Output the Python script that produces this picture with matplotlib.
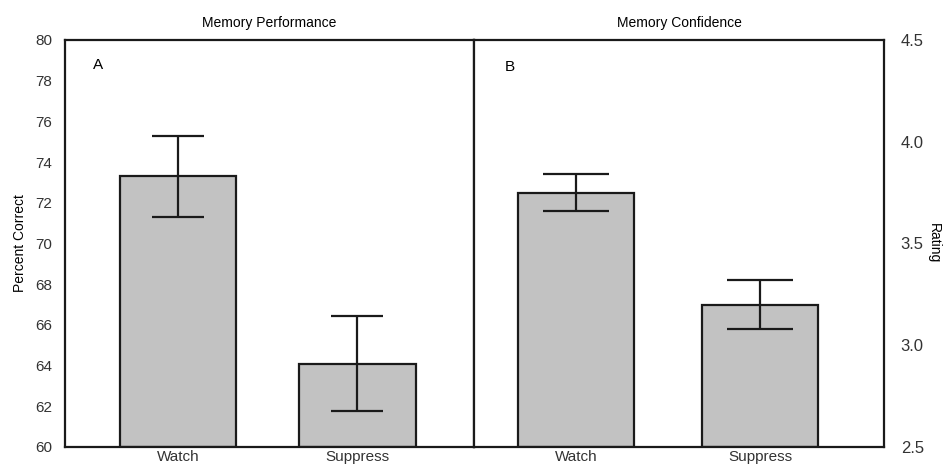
import numpy as np
import matplotlib
matplotlib.use("Agg")
import matplotlib.pyplot as plt

plt.rcParams['font.family'] = ['Liberation Sans Narrow', 'Liberation Sans', 'DejaVu Sans']

conditions = ['Watch', 'Suppress']
perf_mean = [73.3, 64.1]
perf_err = [2.0, 2.35]
conf_mean = [3.75, 3.20]
conf_err = [0.09, 0.12]

fig = plt.figure(figsize=(9.5, 4.7), dpi=100)
ax1 = fig.add_axes([0.0684, 0.049, 0.4305, 0.866])
ax2 = fig.add_axes([0.499, 0.049, 0.4316, 0.866])

x = np.arange(len(conditions))
bar_kw = dict(color='#c2c2c2', edgecolor='#1a1a1a', linewidth=1.6, zorder=2)
err_kw = dict(fmt='none', ecolor='#1a1a1a', elinewidth=1.6, capthick=1.6, zorder=3)

# panel A
ax1.bar(x, np.array(perf_mean) - 60, bottom=60, width=0.65, **bar_kw)
ax1.errorbar(x, perf_mean, yerr=perf_err, capsize=19, **err_kw)
ax1.set_xlim(-0.63, 1.65)
ax1.set_ylim(60, 80)
ax1.set_yticks(np.arange(60, 81, 2))
ax1.set_ylabel('Percent Correct', fontsize=10, labelpad=6)
ax1.set_title('Memory Performance', fontsize=10, pad=9)
ax1.text(0.068, 0.955, 'A', transform=ax1.transAxes, fontsize=11, va='top')

# panel B
ax2.bar(x, np.array(conf_mean) - 2.5, bottom=2.5, width=0.63, **bar_kw)
ax2.errorbar(x, conf_mean, yerr=conf_err, capsize=24, **err_kw)
ax2.set_xlim(-0.555, 1.672)
ax2.set_ylim(2.5, 4.5)
ax2.set_yticks([2.5, 3.0, 3.5, 4.0, 4.5])
ax2.set_yticklabels(['2.5', '3.0', '3.5', '4.0', '4.5'])
ax2.yaxis.tick_right()
ax2.yaxis.set_label_position('right')
ax2.set_ylabel('Rating', fontsize=10, rotation=270, labelpad=12)
ax2.set_title('Memory Confidence', fontsize=10, pad=9)
ax2.text(0.075, 0.95, 'B', transform=ax2.transAxes, fontsize=11, va='top')

for ax in (ax1, ax2):
    ax.set_xticks(x)
    ax.set_xticklabels(conditions, fontsize=11)
    for s in ax.spines.values():
        s.set_linewidth(1.6)
        s.set_color('#1a1a1a')
    ax.tick_params(axis='both', length=0, colors='#333333')
    ax.tick_params(axis='x', pad=2)
ax1.tick_params(axis='y', labelsize=11, pad=9)
ax2.tick_params(axis='y', labelsize=12, pad=12)

fig.savefig('out.png', dpi=100)
